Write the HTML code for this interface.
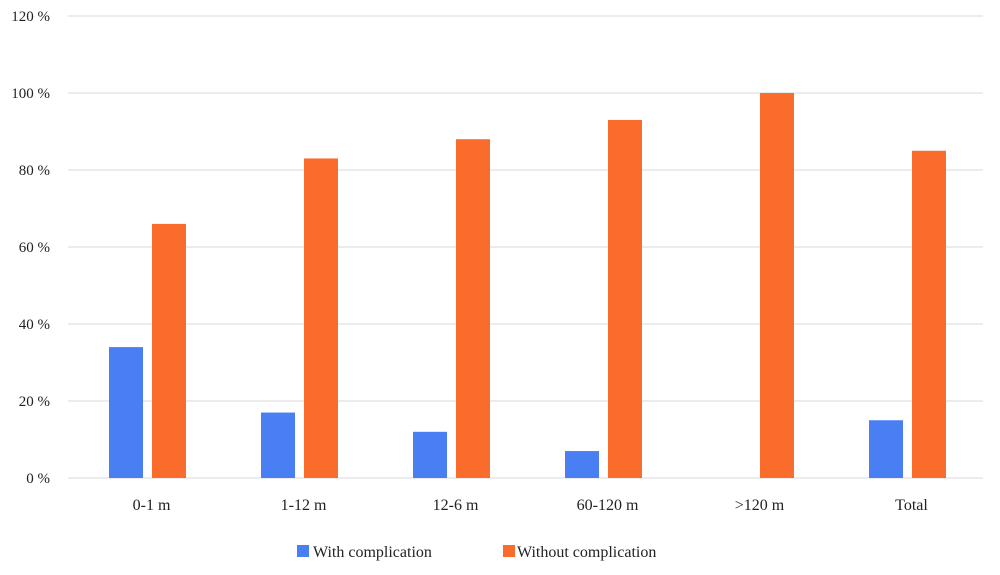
<!DOCTYPE html>
<html><head><meta charset="utf-8"><style>
html,body{margin:0;padding:0;background:#fff;}
svg{display:block;font-family:"Liberation Serif",serif;}
</style></head><body>
<svg id="chart" width="1000" height="575" xmlns="http://www.w3.org/2000/svg">
<g id="grid"></g>
<g id="yticks"></g>
<g id="bars"></g>
<g id="xticks"></g>
<g>
<rect x="297" y="545" width="12" height="12" fill="#4a7ff3"/>
<text x="313" y="557" font-size="16" fill="#222">With complication</text>
<rect x="503" y="545" width="12" height="12" fill="#f96c2c"/>
<text x="517" y="557" font-size="16" fill="#222">Without complication</text>
</g>
</svg>
<script>
const categories=["0-1 m","1-12 m","12-6 m","60-120 m",">120 m","Total"];
const withComp=[34,17,12,7,0,15];
const withoutComp=[66,83,88,93,100,85];
const yTicks=[0,20,40,60,80,100,120];
const NS="http://www.w3.org/2000/svg";
const left=71.5,right=983.5,y0=478,pxPer=77/20;
const y=v=>y0-v*pxPer;
const groupW=(right-left)/categories.length;
const cx=i=>left+groupW*(i+0.5);
function mk(tag,attrs,parent){const e=document.createElementNS(NS,tag);for(const k in attrs)e.setAttribute(k,attrs[k]);parent.appendChild(e);return e;}
const grid=document.getElementById('grid'),yt=document.getElementById('yticks'),bars=document.getElementById('bars'),xt=document.getElementById('xticks');
yTicks.forEach(t=>{
 const l=mk('line',{x1:68,x2:983,y1:y(t),y2:y(t),stroke:'#d9d9d9','stroke-width':1},grid);
 
 
 const tx=mk('text',{x:50,y:y(t)+5,'text-anchor':'end','font-size':15,fill:'#222'},yt);
 tx.textContent=t+' %';
 
 
});
categories.forEach((c,i)=>{
 const c0=cx(i);
 const b1=mk('rect',{x:c0-38.5,y:y(withComp[i]),width:34,height:y0-y(withComp[i]),fill:'#4a7ff3'},bars);
 
 
 const b2=mk('rect',{x:c0+4.5,y:y(withoutComp[i]),width:34,height:y0-y(withoutComp[i]),fill:'#f96c2c'},bars);
 
 
 const t=mk('text',{x:c0+4,y:510,'text-anchor':'middle','font-size':16,fill:'#222'},xt);
 t.textContent=c;
 
 
});
</script>
</body></html>
